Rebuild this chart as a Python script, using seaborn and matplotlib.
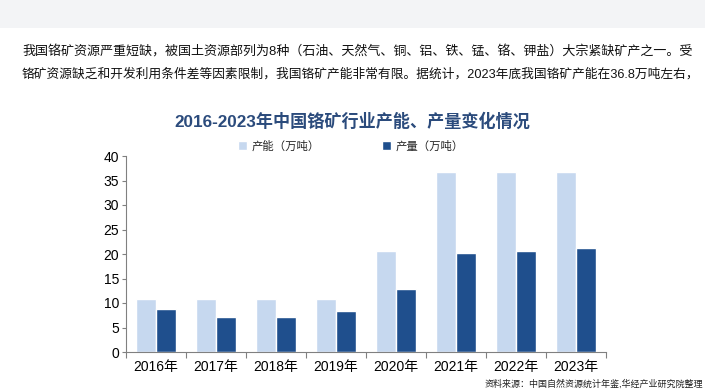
import pandas as pd
import numpy as np
import matplotlib
matplotlib.use('Agg')
import matplotlib.pyplot as plt
import seaborn as sns
from matplotlib.patches import Rectangle

# 数据
years = ['2016年', '2017年', '2018年', '2019年', '2020年', '2021年', '2022年', '2023年']
capacity = [10.8, 10.8, 10.8, 10.8, 20.6, 36.8, 36.8, 36.8]
production = [8.7, 7.1, 7.1, 8.3, 12.8, 20.2, 20.6, 21.2]
series_names = ['产能（万吨）', '产量（万吨）']
y_ticks = [0, 5, 10, 15, 20, 25, 30, 35, 40]

title = '2016-2023年中国铬矿行业产能、产量变化情况'
para1 = '我国铬矿资源严重短缺，被国土资源部列为8种（石油、天然气、铜、铝、铁、锰、铬、钾盐）大宗紧缺矿产之一。受'
para2 = '铬矿资源缺乏和开发利用条件差等因素限制，我国铬矿产能非常有限。据统计，2023年底我国铬矿产能在36.8万吨左右，'
source = '资料来源：中国自然资源统计年鉴,华经产业研究院整理'

df = pd.DataFrame({
    '年份': years * 2,
    '数值': capacity + production,
    '指标': [series_names[0]] * len(years) + [series_names[1]] * len(years),
})

sns.set_style('white')
plt.rcParams['font.family'] = ['Liberation Sans', 'Noto Sans CJK SC', 'DejaVu Sans']

W, H = 705, 392
fig = plt.figure(figsize=(W / 100, H / 100), dpi=100)
fig.patch.set_facecolor('white')

# 顶部浅灰条
fig.patches.append(Rectangle((0, 1 - 28 / H), 1, 28 / H, transform=fig.transFigure,
                             facecolor='#f3f4f6', edgecolor='none', zorder=0))

ax = fig.add_axes([126 / W, (H - 352) / H, 480 / W, 196 / H])
palette = {series_names[0]: '#c6d8ef', series_names[1]: '#1f4f8d'}
sns.barplot(data=df, x='年份', y='数值', hue='指标', palette=palette,
            width=0.68, gap=0, saturation=1, ax=ax, legend=True)

ax.set_ylim(0, 40)
ax.set_xlim(-0.5, len(years) - 0.5)
ax.set_yticks(y_ticks)
ax.set_xlabel('')
ax.set_ylabel('')
ax.tick_params(axis='y', labelsize=10, length=3, width=0.8, color='#808080',
               direction='out', left=True, pad=2)
ax.tick_params(axis='x', which='major', labelsize=10, length=0, pad=6)
ax.set_xticks(np.arange(-0.5, len(years), 1), minor=True)
ax.tick_params(axis='x', which='minor', length=4, width=0.8, color='#808080',
               direction='out', bottom=True)
for side in ['top', 'right']:
    ax.spines[side].set_visible(False)
for side in ['left', 'bottom']:
    ax.spines[side].set_color('#808080')
    ax.spines[side].set_linewidth(0.8)
for lab in ax.get_xticklabels() + ax.get_yticklabels():
    lab.set_color('#000000')

leg = ax.legend(loc='center', bbox_to_anchor=(351 / W, 1 - 146 / H),
                bbox_transform=fig.transFigure, ncol=2, frameon=False,
                fontsize=8.2, handlelength=0.8, handleheight=0.8,
                handletextpad=0.4, columnspacing=5.5)

fig.text(0.5, 1 - 121 / H, title, ha='center', va='center', fontsize=12.3,
         fontweight='bold', color='#2b4b7c')
fig.text(22 / W, 1 - 52 / H, para1, ha='left', va='center', fontsize=9.4, color='#111111')
fig.text(22 / W, 1 - 74 / H, para2, ha='left', va='center', fontsize=9.15, color='#111111')
fig.text(703 / W, 1 - 384 / H, source, ha='right', va='center', fontsize=6.5, color='#222222')

fig.savefig('out.png', dpi=100)
